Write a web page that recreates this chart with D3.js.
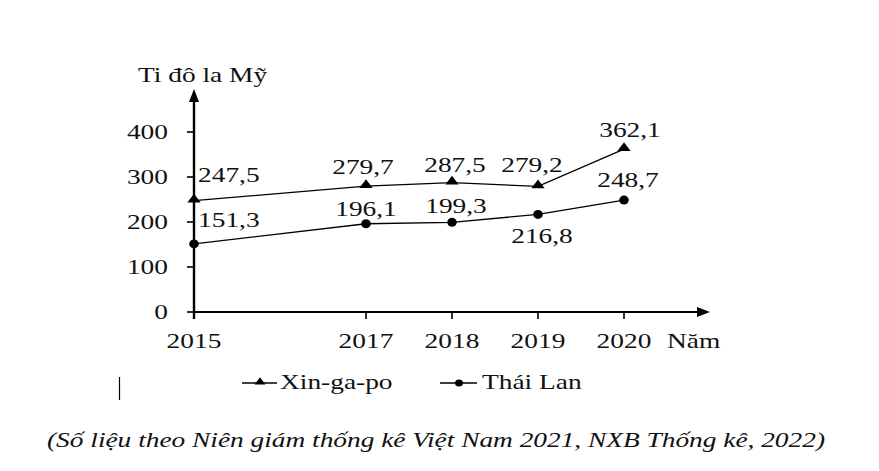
<!DOCTYPE html>
<html lang="vi">
<head>
<meta charset="utf-8">
<script src="https://cdn.jsdelivr.net/npm/d3@7"></script>
<style>
body { margin: 0; background: #fff; }
svg text { fill: #111; }
</style>
</head>
<body>
<div id="chart"></div>
<script>
// data
var years = [2015, 2017, 2018, 2019, 2020];
var singapore = [247.5, 279.7, 287.5, 279.2, 362.1];
var thailand = [151.3, 196.1, 199.3, 216.8, 248.7];
var yTicks = [0, 100, 200, 300, 400];
var seriesNames = ["Xin-ga-po", "Thái Lan"];

// label placement (anchor, dx, dy) around each point
var sgLabelPos = [["start", 4, -19], ["middle", -3, -12], ["middle", 3, -11], ["middle", -6, -14], ["middle", 6, -12]];
var thLabelPos = [["start", 4, -17], ["middle", 0, -8], ["middle", 4, -9], ["middle", 4, 29], ["middle", 4, -13]];

var W = 879, H = 471;
var sx = 1.37; // text in the original is stretched sideways
var serif = "'Liberation Serif', 'Times New Roman', Times, 'DejaVu Serif', serif";

var svg = d3.select("#chart").append("svg")
    .attr("width", W)
    .attr("height", H)
    .attr("font-family", serif);

var x = d3.scaleLinear().domain([2015, 2020]).range([194, 624]);
var y = d3.scaleLinear().domain([0, 400]).range([312, 132]);

function label(g, str, px, py, anchor, size) {
  return g.append("text")
    .attr("transform", "translate(" + px + "," + py + ") scale(" + sx + ",1)")
    .attr("text-anchor", anchor)
    .attr("font-family", serif)
    .attr("font-size", size)
    .text(str);
}

function fmt(v) { return v.toFixed(1).replace(".", ","); }

// axes
svg.append("line")
    .attr("x1", x(2015)).attr("x2", 704)
    .attr("y1", y(0)).attr("y2", y(0))
    .attr("stroke", "#000").attr("stroke-width", 2);
svg.append("path")
    .attr("d", "M710," + y(0) + "l-13,-5v10z")
    .attr("fill", "#000");

svg.append("line")
    .attr("x1", x(2015)).attr("x2", x(2015))
    .attr("y1", y(0) + 7).attr("y2", 96)
    .attr("stroke", "#000").attr("stroke-width", 2.4);
svg.append("path")
    .attr("d", "M" + x(2015) + ",89l-5,13h10z")
    .attr("fill", "#000");

// y ticks
yTicks.forEach(function(t) {
  svg.append("line")
    .attr("x1", x(2015) - 7).attr("x2", x(2015))
    .attr("y1", y(t)).attr("y2", y(t))
    .attr("stroke", "#000").attr("stroke-width", 1.6);
  label(svg, t, 168, y(t) + 7, "end", 20);
});

// x ticks
years.forEach(function(yr) {
  svg.append("line")
    .attr("x1", x(yr)).attr("x2", x(yr))
    .attr("y1", y(0)).attr("y2", y(0) + 7)
    .attr("stroke", "#000").attr("stroke-width", 1.6);
  label(svg, yr, x(yr), 348, "middle", 20);
});

label(svg, "Năm", 667, 348, "start", 20);
label(svg, "Ti đô la Mỹ", 138, 82, "start", 20);

// lines
var line = d3.line()
    .x(function(d, i) { return x(years[i]); })
    .y(function(d) { return y(d); });

svg.append("path").datum(singapore)
    .attr("d", line).attr("fill", "none")
    .attr("stroke", "#000").attr("stroke-width", 1.3);
svg.append("path").datum(thailand)
    .attr("d", line).attr("fill", "none")
    .attr("stroke", "#000").attr("stroke-width", 1.3);

var tri = d3.symbol().type(d3.symbolTriangle).size(45);

svg.selectAll(".sg").data(singapore).enter().append("path")
    .attr("class", "sg")
    .attr("d", tri)
    .attr("transform", function(d, i) { return "translate(" + x(years[i]) + "," + (y(d) - 1) + ") scale(1.3,1)"; })
    .attr("fill", "#000");

svg.selectAll(".th").data(thailand).enter().append("ellipse")
    .attr("class", "th")
    .attr("cx", function(d, i) { return x(years[i]); })
    .attr("cy", function(d) { return y(d); })
    .attr("rx", 4.8).attr("ry", 4.5)
    .attr("fill", "#000");

// value labels
singapore.forEach(function(v, i) {
  var p = sgLabelPos[i];
  label(svg, fmt(v), x(years[i]) + p[1], y(v) + p[2], p[0], 20);
});
thailand.forEach(function(v, i) {
  var p = thLabelPos[i];
  label(svg, fmt(v), x(years[i]) + p[1], y(v) + p[2], p[0], 20);
});

// legend
var lg = svg.append("g");
lg.append("line").attr("x1", 242).attr("x2", 277).attr("y1", 383).attr("y2", 383)
    .attr("stroke", "#000").attr("stroke-width", 1.3);
lg.append("path").attr("d", d3.symbol().type(d3.symbolTriangle).size(30))
    .attr("transform", "translate(260,382) scale(1.3,1)").attr("fill", "#000");
label(lg, seriesNames[0], 280, 389, "start", 20);

lg.append("line").attr("x1", 440).attr("x2", 477).attr("y1", 383).attr("y2", 383)
    .attr("stroke", "#000").attr("stroke-width", 1.3);
lg.append("ellipse").attr("cx", 459).attr("cy", 383).attr("rx", 4).attr("ry", 3.6)
    .attr("fill", "#000");
label(lg, seriesNames[1], 482, 389, "start", 20);

// stray cursor mark in the original
svg.append("line").attr("x1", 119.5).attr("x2", 119.5).attr("y1", 377).attr("y2", 400)
    .attr("stroke", "#000").attr("stroke-width", 1.2);

// source note
svg.append("text")
    .attr("x", 47).attr("y", 447)
    .attr("font-family", serif)
    .attr("font-size", 22).attr("font-style", "italic")
    .attr("textLength", 778).attr("lengthAdjust", "spacingAndGlyphs")
    .text("(Số liệu theo Niên giám thống kê Việt Nam 2021, NXB Thống kê, 2022)");
</script>
</body>
</html>
